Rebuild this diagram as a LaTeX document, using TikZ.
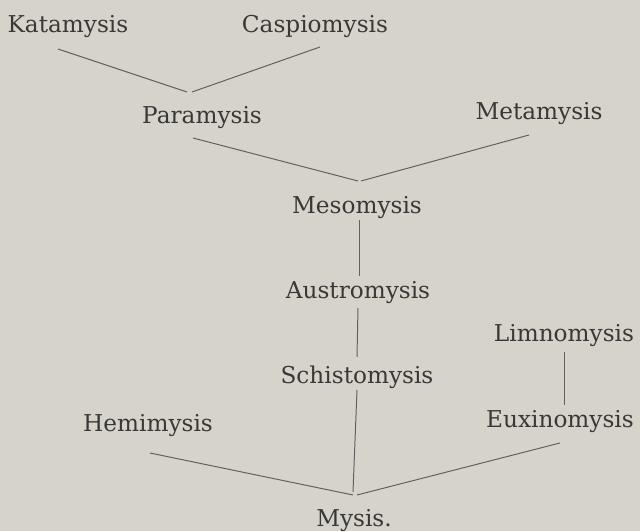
\documentclass[tikz,border=0pt]{standalone}
\usepackage{fontspec}
\setmainfont{DejaVu Serif}
\usetikzlibrary{calc}
\definecolor{paper}{HTML}{D6D3CB}
\definecolor{ink}{HTML}{3A3836}

\begin{document}
\begin{tikzpicture}[x=0.025cm,y=-0.025cm,
  taxon/.style={font=\fontsize{16.5}{18}\selectfont,text=ink,anchor=base,inner sep=0pt},
  link/.style={draw=ink!80,line width=0.7pt}]
\fill[paper] (0,0) rectangle (640,531);

\node[taxon] (kat) at (68,33) {Katamysis};
\node[taxon] (casp) at (315,33) {Caspiomysis};
\node[taxon] (para) at (202,124) {Paramysis};
\node[taxon] (meta) at (539,120) {Metamysis};
\node[taxon] (meso) at (357,214) {Mesomysis};
\node[taxon] (austro) at (358,299) {Austromysis};
\node[taxon] (schisto) at (357,384) {Schistomysis};
\node[taxon] (limno) at (564,342) {Limnomysis};
\node[taxon] (hemi) at (148,432) {Hemimysis};
\node[taxon] (euxino) at (560,428) {Euxinomysis};
\node[taxon] (mysis) at (354,526) {Mysis.};

\draw[link] ($(kat.base)+(-10,16)$) -- ($(para.base)+(-15,-32)$);
\draw[link] ($(casp.base)+(5,14)$) -- ($(para.base)+(-10,-32)$);
\draw[link] ($(para.base)+(-9,14)$) -- ($(meso.base)+(1,-33)$);
\draw[link] ($(meta.base)+(-10,15)$) -- ($(meso.base)+(4,-33)$);
\draw[link] ($(meso.base)+(2,6)$) -- ($(austro.base)+(1,-23)$);
\draw[link] ($(austro.base)+(0,9)$) -- ($(schisto.base)+(0,-27)$);
\draw[link] ($(schisto.base)+(0,6)$) -- ($(mysis.base)+(-1,-34)$);
\draw[link] ($(limno.base)+(0,10)$) -- ($(euxino.base)+(4,-23)$);
\draw[link] ($(hemi.base)+(2,21)$) -- ($(mysis.base)+(-1,-31)$);
\draw[link] ($(euxino.base)+(0,15)$) -- ($(mysis.base)+(3,-31)$);
\end{tikzpicture}
\end{document}
